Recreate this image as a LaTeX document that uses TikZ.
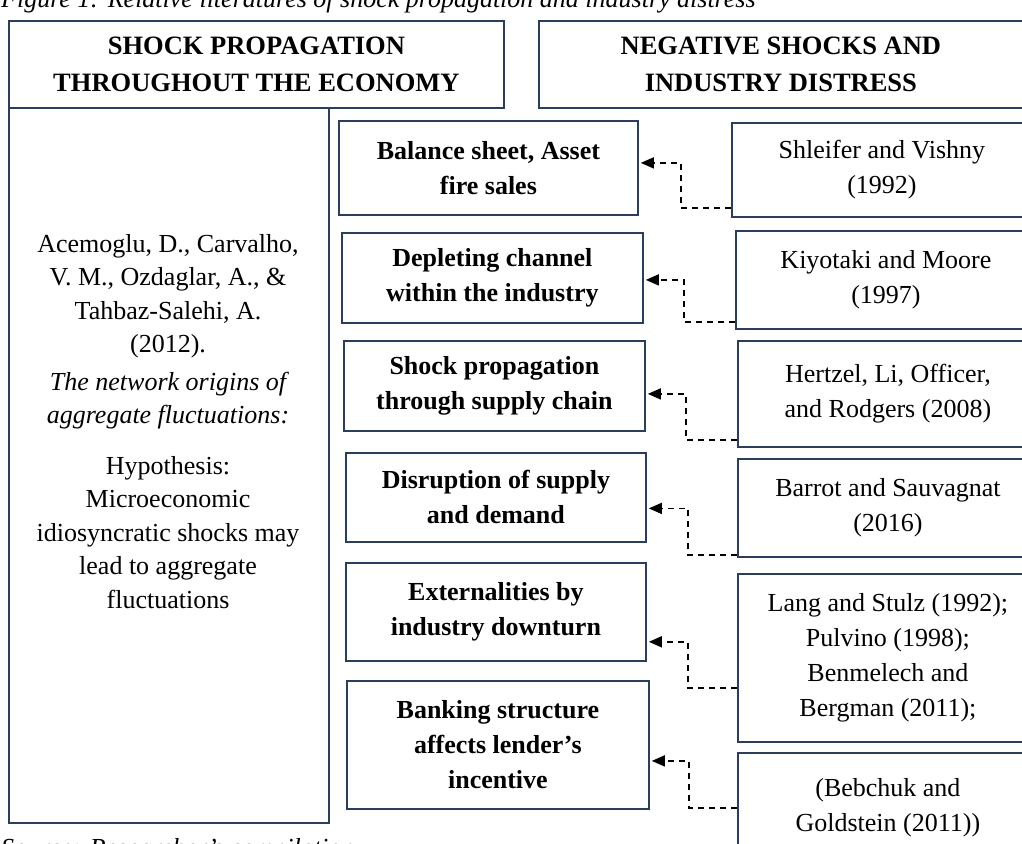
\documentclass[tikz,border=0pt]{standalone}
\usepackage{fontspec}
\setmainfont{Liberation Serif}
\usetikzlibrary{arrows.meta,positioning}
\definecolor{navy}{HTML}{2B3F5C}
\tikzset{
  x=1pt,y=-1pt,
  frame/.style={draw=navy,line width=1.8pt,inner sep=0pt,align=center,
    font=\fontsize{26}{34}\selectfont},
  midbox/.style={frame,font=\fontsize{26}{35}\selectfont\bfseries},
  refbox/.style={frame,font=\fontsize{26}{35}\selectfont},
  conn/.style={draw=black,line width=1.6pt,dash pattern=on 6pt off 5pt,
    -{Triangle[length=13pt,width=11pt]}}
}
\begin{document}
\begin{tikzpicture}
\useasboundingbox (0,0) rectangle (1022,843);
% captions
\node[anchor=base west,inner sep=0pt,font=\fontsize{26}{34}\selectfont\itshape] (cap) at (1,8)
  {Figure 1: Relative literatures of shock propagation and industry distress};
\node[anchor=base west,inner sep=0pt,font=\fontsize{26}{34}\selectfont\itshape] (src) at (1,856)
  {Source: Researcher's compilation};
% headers
\node[frame,font=\fontsize{26.5}{37}\selectfont\bfseries,minimum width=495pt,minimum height=87pt,anchor=north west] (h1) at (8,20)
  {SHOCK PROPAGATION\\THROUGHOUT THE ECONOMY};
\node[frame,font=\fontsize{26.5}{37}\selectfont\bfseries,minimum width=484pt,minimum height=87pt,anchor=north west] (h2) at (538,20)
  {NEGATIVE SHOCKS AND\\INDUSTRY DISTRESS};
% left tall box
\node[frame,minimum width=320pt,minimum height=715pt,anchor=north west] (lb) at (8,107) {};
\node[align=center,inner sep=0pt,font=\fontsize{26}{33.5}\selectfont,anchor=north] (lt) at (168,234)
  {Acemoglu, D., Carvalho,\\V. M., Ozdaglar, A., \&\\Tahbaz-Salehi, A.\\(2012).\\[4pt]
   \itshape The network origins of\\\itshape aggregate fluctuations:\\[17pt]
   Hypothesis:\\Microeconomic\\idiosyncratic shocks may\\lead to aggregate\\fluctuations};
% middle boxes
\node[midbox,minimum width=299pt,minimum height=94pt,anchor=north west] (m1) at (338,120) {Balance sheet, Asset\\fire sales};
\node[midbox,minimum width=301pt,minimum height=90pt,anchor=north west] (m2) at (341,232) {Depleting channel\\within the industry};
\node[midbox,minimum width=301pt,minimum height=90pt,anchor=north west] (m3) at (343,340) {Shock propagation\\through supply chain};
\node[midbox,minimum width=300pt,minimum height=89pt,anchor=north west] (m4) at (345,452) {Disruption of supply\\and demand};
\node[midbox,minimum width=300pt,minimum height=98pt,anchor=north west] (m5) at (345,562) {Externalities by\\industry downturn};
\node[midbox,minimum width=302pt,minimum height=128pt,anchor=north west] (m6) at (346,680) {Banking structure\\affects lender’s\\incentive};
% right boxes
\node[refbox,minimum width=300pt,minimum height=94pt,anchor=north west] (r1) at (731,122) {Shleifer and Vishny\\(1992)};
\node[refbox,minimum width=300pt,minimum height=98pt,anchor=north west] (r2) at (735,230) {Kiyotaki and Moore\\(1997)};
\node[refbox,minimum width=300pt,minimum height=106pt,anchor=north west] (r3) at (737,340) {Hertzel, Li, Officer,\\and Rodgers (2008)};
\node[refbox,minimum width=300pt,minimum height=98pt,anchor=north west] (r4) at (737,458) {Barrot and Sauvagnat\\(2016)};
\node[refbox,minimum width=300pt,minimum height=168pt,anchor=north west] (r5) at (737,573) {Lang and Stulz (1992);\\Pulvino (1998);\\Benmelech and\\Bergman (2011);};
\node[refbox,minimum width=300pt,minimum height=110pt,anchor=north west] (r6) at (737,752) {(Bebchuk and\\Goldstein (2011))};
% connectors
\coordinate (e1) at (681,208); \coordinate (e2) at (684,322); \coordinate (e3) at (686,440);
\coordinate (e4) at (688,555); \coordinate (e5) at (688,688); \coordinate (e6) at (689,808);
\draw[conn] (r1.west |- e1) -- (e1) |- ([xshift=2pt,yshift=5pt]m1.east);
\draw[conn] (r2.west |- e2) -- (e2) |- ([xshift=2pt,yshift=-2pt]m2.east);
\draw[conn] (r3.west |- e3) -- (e3) |- ([xshift=2pt,yshift=-8pt]m3.east);
\draw[conn] (r4.west |- e4) -- (e4) |- ([xshift=2pt,yshift=-11pt]m4.east);
\draw[conn] (r5.west |- e5) -- (e5) |- ([xshift=2pt,yshift=20pt]m5.south east);
\draw[conn] (r6.west |- e6) -- (e6) |- ([xshift=2pt,yshift=-16pt]m6.east);
\end{tikzpicture}
\end{document}
